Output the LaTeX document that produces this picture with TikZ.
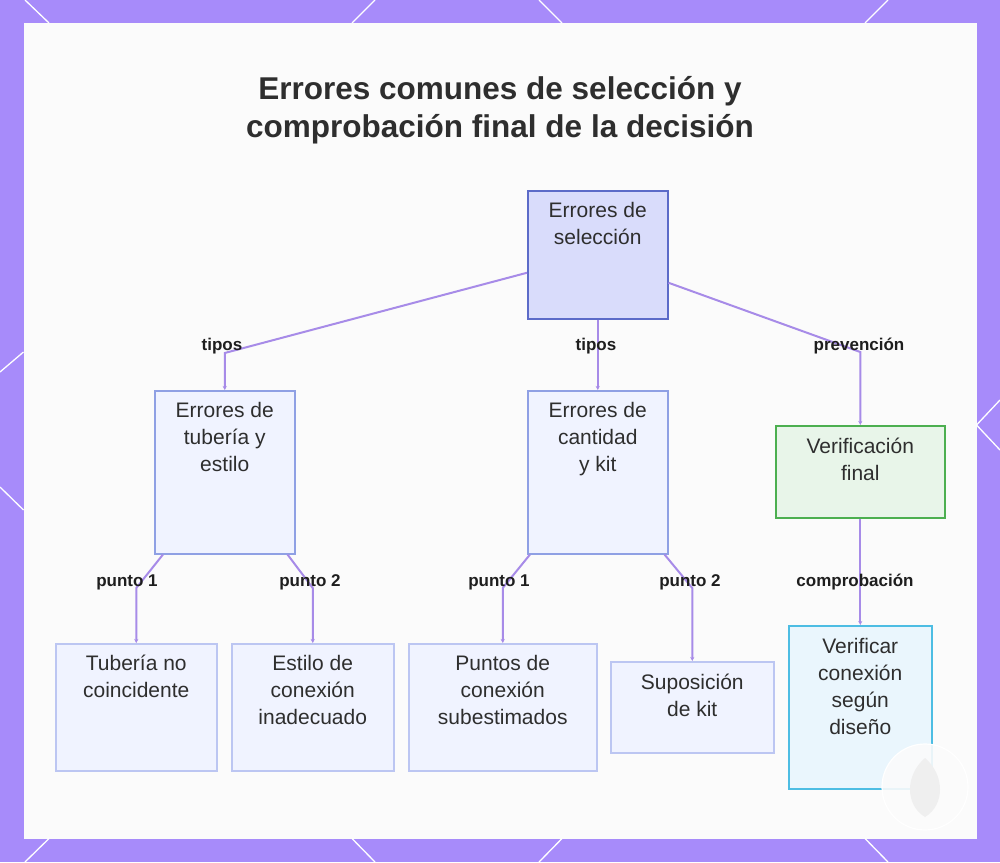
\documentclass[tikz,border=0pt]{standalone}
\usepackage{fontspec}
\setmainfont{Liberation Sans}
\usetikzlibrary{arrows.meta}
\definecolor{framec}{HTML}{A78BFA}
\definecolor{panelc}{HTML}{FBFBFB}
\definecolor{edgec}{HTML}{A78BE8}
\definecolor{rootfill}{HTML}{D9DCFB}
\definecolor{rootdraw}{HTML}{5C6BC8}
\definecolor{midfill}{HTML}{F0F3FF}
\definecolor{middraw}{HTML}{8FA0E4}
\definecolor{leaffill}{HTML}{F0F3FF}
\definecolor{leafdraw}{HTML}{BCC6F2}
\definecolor{grnfill}{HTML}{E8F5E9}
\definecolor{grndraw}{HTML}{4CAF50}
\definecolor{cyanfill}{HTML}{EAF6FD}
\definecolor{cyandraw}{HTML}{4DBDE3}
\definecolor{txtc}{HTML}{2E2E2E}
\definecolor{lblc}{HTML}{1E1E1E}
\definecolor{leafc}{HTML}{EFEFEF}
\newcommand{\tstrut}{\rule{0pt}{15pt}}
\begin{document}
\begin{tikzpicture}[x=1pt,y=-1pt,
  boxbase/.style={rectangle, anchor=north west, inner sep=0pt, line width=1.5pt},
  rootbox/.style={boxbase, fill=rootfill, draw=rootdraw},
  midbox/.style={boxbase, fill=midfill, draw=middraw},
  leafbox/.style={boxbase, fill=leaffill, draw=leafdraw},
  grnbox/.style={boxbase, fill=grnfill, draw=grndraw},
  cyanbox/.style={boxbase, fill=cyanfill, draw=cyandraw},
  boxtext/.style={anchor=north, inner sep=0pt, align=center, text=txtc,
    font=\fontsize{21}{27}\selectfont},
  lbl/.style={anchor=base, inner sep=0pt, text=lblc,
    font=\fontsize{17}{20}\selectfont\bfseries},
  edge/.style={draw=edgec, line width=2pt, -{Stealth[length=4pt,width=4pt]}},
  deco/.style={draw=white, line width=1.3pt}
]
\useasboundingbox (0,0) rectangle (1000,862);
\fill[framec] (0,0) rectangle (1000,862);
\fill[panelc] (23.5,23) rectangle (976.5,838.5);
% frame decorations
\draw[deco] (25,0) -- (49,23);
\draw[deco] (375,0) -- (352,23);
\draw[deco] (539,0) -- (562,23);
\draw[deco] (888,0) -- (865,23);
\draw[deco] (25,862) -- (49,838.5);
\draw[deco] (375,862) -- (352,838.5);
\draw[deco] (539,862) -- (562,838.5);
\draw[deco] (888,862) -- (865,838.5);
\draw[deco] (0,372) -- (23.5,352);
\draw[deco] (0,487) -- (23.5,510);
\draw[deco] (1000,400) -- (976.5,425) -- (1000,450);

% title
\node[anchor=base, inner sep=0pt, text=txtc, font=\fontsize{31.5}{38}\selectfont\bfseries] (title1) at (500,99) {Errores comunes de selección y};
\node[anchor=base, inner sep=0pt, text=txtc, font=\fontsize{31.5}{38}\selectfont\bfseries] (title2) at (500,137) {comprobación final de la decisión};

% boxes
\node[rootbox, minimum width=140pt, minimum height=128pt] (root) at (527,190) {};
\node[midbox, minimum width=140pt, minimum height=163pt] (tub) at (154,390) {};
\node[midbox, minimum width=140pt, minimum height=163pt] (cant) at (527,390) {};
\node[grnbox, minimum width=169pt, minimum height=92pt] (ver) at (775,425) {};
\node[leafbox, minimum width=161pt, minimum height=127pt] (tn) at (55,643) {};
\node[leafbox, minimum width=162pt, minimum height=127pt] (es) at (231,643) {};
\node[leafbox, minimum width=188pt, minimum height=127pt] (pc) at (408,643) {};
\node[leafbox, minimum width=163pt, minimum height=91pt] (sk) at (610,661) {};
\node[cyanbox, minimum width=143pt, minimum height=163pt] (vc) at (788,625) {};

% box texts
\node[boxtext] (rootT) at ([yshift=-12pt]root.north) {\tstrut Errores de\\selección};
\node[boxtext] (tubT) at ([yshift=-12pt]tub.north) {\tstrut Errores de\\tubería y\\estilo};
\node[boxtext] (cantT) at ([yshift=-12pt]cant.north) {\tstrut Errores de\\cantidad\\y kit};
\node[boxtext] (verT) at ([yshift=-13pt]ver.north) {\tstrut Verificación\\final};
\node[boxtext] (tnT) at ([yshift=-12pt]tn.north) {\tstrut Tubería no\\coincidente};
\node[boxtext] (esT) at ([yshift=-12pt]es.north) {\tstrut Estilo de\\conexión\\inadecuado};
\node[boxtext] (pcT) at ([yshift=-12pt]pc.north) {\tstrut Puntos de\\conexión\\subestimados};
\node[boxtext] (skT) at ([yshift=-13pt]sk.north) {\tstrut Suposición\\de kit};
\node[boxtext] (vcT) at ([yshift=-13pt]vc.north) {\tstrut Verificar\\conexión\\según\\diseño};

% connectors
\draw[edge] ([yshift=-18pt]root.west) -- ([yshift=37pt]tub.north) -- (tub.north);
\draw[edge] (root.south) -- (cant.north);
\draw[edge] ([yshift=-28pt]root.east) -- ([yshift=73pt]ver.north) -- (ver.north);
\draw[edge] ([xshift=9pt]tub.south west) -- ([yshift=55pt]tn.north) -- (tn.north);
\draw[edge] ([xshift=-8pt]tub.south east) -- ([yshift=55pt]es.north) -- (es.north);
\draw[edge] ([xshift=3pt]cant.south west) -- ([yshift=55pt]pc.north) -- (pc.north);
\draw[edge] ([xshift=-4pt]cant.south east) -- ([yshift=73pt]sk.north) -- (sk.north);
\draw[edge] (ver.south) -- (vc.north);

% connector labels
\node[lbl] (l1) at (222,350) {tipos};
\node[lbl] (l2) at (596,350) {tipos};
\node[lbl] (l3) at (859,350) {prevención};
\node[lbl] (l4) at (127,586) {punto 1};
\node[lbl] (l5) at (310,586) {punto 2};
\node[lbl] (l6) at (499,586) {punto 1};
\node[lbl] (l7) at (690,586) {punto 2};
\node[lbl] (l8) at (855,586) {comprobación};

% decorative badge
\fill[panelc, opacity=0.9] (925,787) circle (43);
\draw[white, line width=1.2pt] (925,787) circle (43);
\fill[leafc] (925,758) .. controls (945,775) and (945,805) .. (925,817) .. controls (905,805) and (905,775) .. (925,758);
\end{tikzpicture}
\end{document}
